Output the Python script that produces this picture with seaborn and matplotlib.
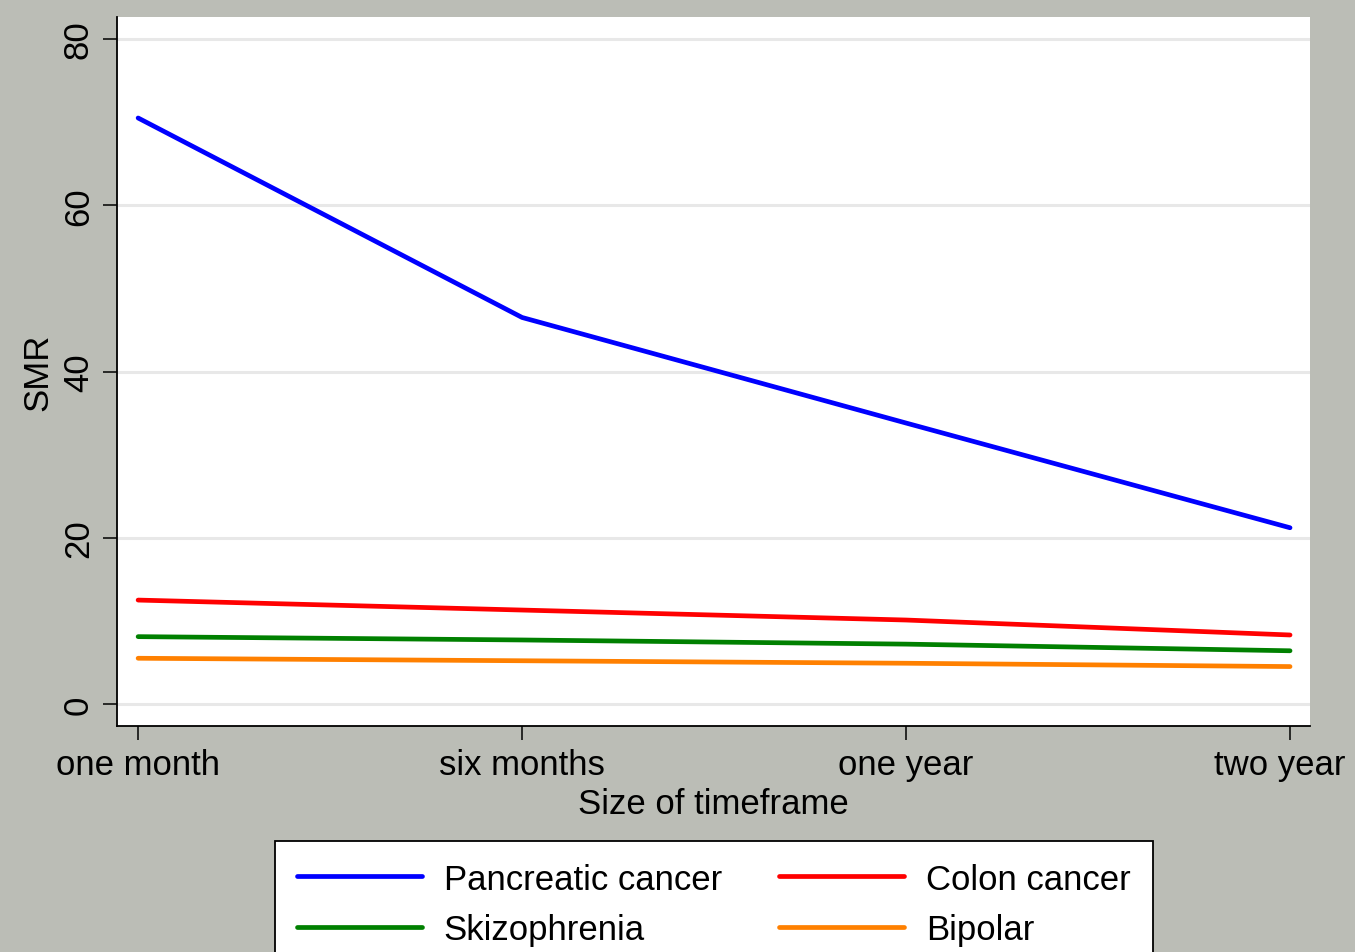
import matplotlib
matplotlib.use("Agg")
import matplotlib.pyplot as plt
import matplotlib.transforms as mtransforms
import seaborn as sns
import pandas as pd

categories = ["one month", "six months", "one year", "two year"]
pancreatic = [70.5, 46.5, 33.8, 21.2]
colon = [12.5, 11.3, 10.1, 8.3]
skizophrenia = [8.1, 7.7, 7.2, 6.4]
bipolar = [5.5, 5.2, 4.9, 4.5]
series_names = ["Pancreatic cancer", "Colon cancer", "Skizophrenia", "Bipolar"]
series_values = [pancreatic, colon, skizophrenia, bipolar]
colors = ["#0000ff", "#ff0000", "#008000", "#ff8000"]
yticks = [0, 20, 40, 60, 80]

rows = []
for name, vals in zip(series_names, series_values):
    for c, v in zip(categories, vals):
        rows.append({"timeframe": c, "SMR": v, "condition": name})
df = pd.DataFrame(rows)

sns.set_theme(style="white")
plt.rcParams["font.family"] = ["Liberation Sans", "DejaVu Sans"]
plt.rcParams["text.color"] = "black"
plt.rcParams["axes.labelcolor"] = "black"

bg = "#bbbdb6"
fig = plt.figure(figsize=(13.55, 9.53), dpi=100, facecolor=bg)
ax = fig.add_axes([117/1355, 1-727/953, (1310-117)/1355, (727-18)/953])
ax.set_facecolor("white")

sns.lineplot(data=df, x="timeframe", y="SMR", hue="condition",
             hue_order=series_names, palette=colors, sort=False,
             errorbar=None, linewidth=3.4, ax=ax, legend=True)

ax.set_xlim(-0.055, 3.052)
ax.set_ylim(-2.65, 82.65)
ax.set_yticks(yticks)
ax.set_yticklabels([str(t) for t in yticks], rotation=90, va="center")
ax.grid(axis="y", color="#e8e8e8", linewidth=2.2)
ax.grid(axis="x", visible=False)
ax.set_axisbelow(True)

for s in ["top", "right"]:
    ax.spines[s].set_visible(False)
for s in ["left", "bottom"]:
    ax.spines[s].set_color("black")
    ax.spines[s].set_linewidth(1.3)

ax.tick_params(axis="both", which="major", direction="out", length=10,
               width=1.1, color="black", labelsize=25, labelcolor="black",
               left=True, bottom=True)
ax.tick_params(axis="y", pad=6)
ax.tick_params(axis="x", pad=6)

# last x label shifted left to stay inside the figure
last = ax.get_xticklabels()[-1]
last.set_transform(last.get_transform() +
                   mtransforms.ScaledTranslation(-10/100, 0, fig.dpi_scale_trans))

ax.set_xlabel("Size of timeframe", fontsize=25, color="black", labelpad=4)
ax.set_ylabel("SMR", fontsize=25, color="black")
ax.yaxis.label.set_va("center")
ax.yaxis.set_label_coords((38-117)/1193, 0.5)

handles, labels = ax.get_legend_handles_labels()
ax.get_legend().remove()
order = [0, 2, 1, 3]
leg = fig.legend([handles[i] for i in order], [labels[i] for i in order],
                 loc="upper center", bbox_to_anchor=(714/1355, 1-842/953),
                 ncol=2, fontsize=25, frameon=True, fancybox=False,
                 handlelength=3.6, handletextpad=0.63, columnspacing=1.65,
                 borderpad=0.62, labelspacing=0.5, framealpha=1,
                 borderaxespad=0)
leg.get_frame().set_edgecolor("black")
leg.get_frame().set_linewidth(1.3)
leg.get_frame().set_facecolor("white")
for t in leg.get_texts():
    t.set_color("black")
for line in leg.get_lines():
    line.set_linewidth(3.4)

fig.savefig("out.png", dpi=100, facecolor=bg)
